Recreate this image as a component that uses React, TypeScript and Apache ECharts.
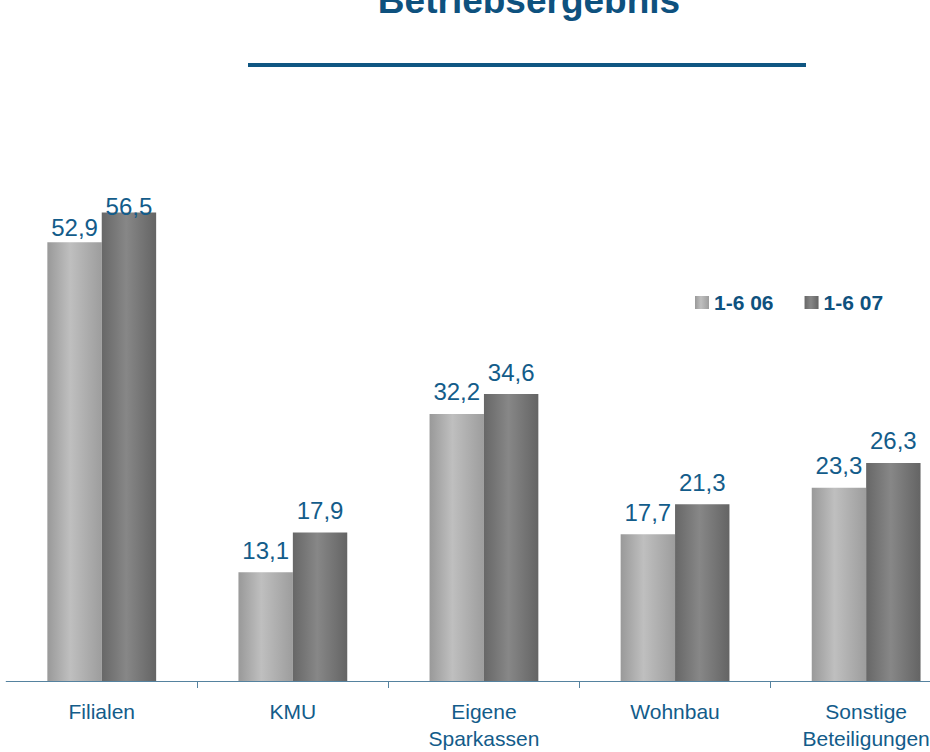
import React, { useEffect, useRef } from 'react';
import * as echarts from 'echarts';

const titleText = 'Betriebsergebnis';
const categories = ['Filialen', 'KMU', 'Eigene\nSparkassen', 'Wohnbau', 'Sonstige\nBeteiligungen'];
const seriesNames = ['1-6 06', '1-6 07'];
const values0606 = [52.9, 13.1, 32.2, 17.7, 23.3];
const values0607 = [56.5, 17.9, 34.6, 21.3, 26.3];

const FONT = '"Liberation Sans", Arial, Helvetica, sans-serif';
const LABEL_BLUE = '#135c8a';
const TITLE_BLUE = '#0e517e';

// per-label vertical nudges seen in the reference (series index -> category index -> px)
const labelNudge: Record<string, number> = { '0-0': 7, '1-0': 16 };

const lightGradient = new echarts.graphic.LinearGradient(0, 0, 1, 0, [
  { offset: 0, color: '#999999' },
  { offset: 0.42, color: '#bfbfbf' },
  { offset: 1, color: '#9d9d9d' },
]);
const darkGradient = new echarts.graphic.LinearGradient(0, 0, 1, 0, [
  { offset: 0, color: '#676767' },
  { offset: 0.45, color: '#878787' },
  { offset: 1, color: '#646464' },
]);

function buildData(values: number[], s: number) {
  return values.map((v, i) => {
    const n = labelNudge[`${s}-${i}`];
    return n ? { value: v, label: { offset: [0, n] } } : v;
  });
}

export default function App() {
  const ref = useRef<HTMLDivElement>(null);
  useEffect(() => {
    if (!ref.current) return;
    const chart = echarts.init(ref.current, null, { renderer: 'svg' });
    const barLabel = {
      show: true,
      position: 'top',
      distance: 10,
      color: LABEL_BLUE,
      fontSize: 24,
      fontFamily: FONT,
      formatter: (p: any) => Number(p.value).toFixed(1).replace('.', ','),
    };
    chart.setOption({
      animation: false,
      backgroundColor: '#ffffff',
      textStyle: { fontFamily: FONT },
      grid: { left: 6.2, width: 955.5, top: 17.6, bottom: 70, containLabel: false },
      legend: {
        data: seriesNames,
        left: 690,
        top: 287,
        itemWidth: 14,
        itemHeight: 13,
        itemGap: 31,
        icon: 'rect',
        textStyle: { color: TITLE_BLUE, fontSize: 21, fontWeight: 'bold', fontFamily: FONT },
      },
      xAxis: {
        type: 'category',
        data: categories,
        axisLine: { show: true, lineStyle: { color: '#55829f', width: 1 } },
        axisTick: {
          show: true,
          length: 7,
          lineStyle: { color: '#55829f' },
          interval: (index: number) => index > 0,
        },
        axisLabel: {
          color: LABEL_BLUE,
          fontSize: 21,
          lineHeight: 27,
          margin: 17,
          fontFamily: FONT,
          interval: 0,
        },
      },
      yAxis: {
        type: 'value',
        min: 0,
        max: 80,
        show: false,
        splitLine: { show: false },
      },
      series: [
        {
          name: seriesNames[0],
          type: 'bar',
          barWidth: 54.4,
          barGap: '0%',
          data: buildData(values0606, 0),
          itemStyle: { color: lightGradient },
          label: barLabel,
        },
        {
          name: seriesNames[1],
          type: 'bar',
          barWidth: 54.4,
          barGap: '0%',
          data: buildData(values0607, 1),
          itemStyle: { color: darkGradient },
          label: barLabel,
        },
      ],
      graphic: [
        {
          type: 'text',
          x: 529,
          y: 0,
          style: {
            text: titleText,
            fill: TITLE_BLUE,
            font: `bold 37px ${FONT}`,
            align: 'center',
            verticalAlign: 'middle',
          },
        },
        {
          type: 'line',
          shape: { x1: 248, y1: 65, x2: 806, y2: 65 },
          style: { stroke: '#0f5682', lineWidth: 4 },
        },
      ],
    });
    return () => chart.dispose();
  }, []);
  return (
    <div style={{ position: 'fixed', left: 0, top: 0, width: 930, height: 752, overflow: 'hidden', background: '#fff' }}>
      <div ref={ref} style={{ width: 1000, height: 752 }} />
    </div>
  );
}
